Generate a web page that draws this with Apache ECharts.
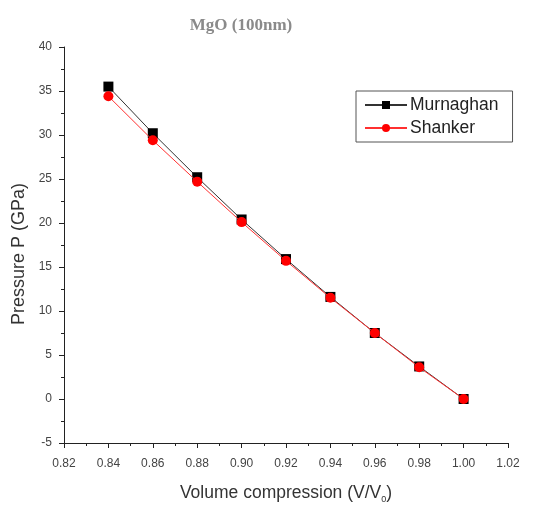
<!DOCTYPE html>
<html><head><meta charset="utf-8">
<script src="https://cdn.jsdelivr.net/npm/echarts@6/dist/echarts.min.js"></script>
<style>html,body{margin:0;padding:0;background:#fff}#c{width:555px;height:509px}</style>
</head><body><div id="c"></div>
<script>
var xValues = [0.84, 0.86, 0.88, 0.90, 0.92, 0.94, 0.96, 0.98, 1.00];
var murnaghan = [35.5, 30.2, 25.2, 20.4, 15.9, 11.6, 7.5, 3.7, 0.0];
var shanker = [34.4, 29.4, 24.7, 20.1, 15.7, 11.5, 7.5, 3.6, 0.0];
var seriesNames = ['Murnaghan', 'Shanker'];

function pairs(ys){ return xValues.map(function(x,i){ return [x, ys[i]]; }); }

var chart = echarts.init(document.getElementById('c'));
chart.setOption({
  animation: false,
  title: {
    text: 'MgO (100nm)', left: 236, top: 12, textAlign: 'center',
    textStyle: { fontFamily: 'Liberation Serif', fontWeight: 'bold', fontSize: 17, color: '#8a8a8a' }
  },
  legend: {
    data: seriesNames, orient: 'vertical', left: 356, top: 91,
    padding: [5, 14, 5, 8], itemGap: 5,
    borderColor: '#555', borderWidth: 1, itemWidth: 42, itemHeight: 10,
    textStyle: { fontFamily: 'Liberation Sans', fontSize: 17.5, color: '#222', padding: [0, 0, 0, -2] }
  },
  grid: { left: 64, right: 47, top: 47, bottom: 58 },
  xAxis: {
    type: 'value', min: 0.82, max: 1.02, interval: 0.02,
    name: '{a|Volume compression (V/V}{s|0}{a|)}', nameLocation: 'middle', nameGap: 40,
    nameTextStyle: { rich: {
      a: { fontFamily: 'Liberation Sans', fontSize: 17.5, color: '#333' },
      s: { fontFamily: 'Liberation Sans', fontSize: 9, color: '#333', verticalAlign: 'bottom', padding: [12,0,0,0] }
    } },
    axisLine: { show: true, onZero: false, lineStyle: { color: '#222', width: 1 } },
    axisTick: { show: true, inside: false, length: 5, lineStyle: { color: '#222' } },
    minorTick: { show: true, splitNumber: 2, length: 3, lineStyle: { color: '#222' } },
    splitLine: { show: false },
    axisLabel: { fontFamily: 'Liberation Sans', fontSize: 12, color: '#444', margin: 15,
      formatter: function(v){ return v.toFixed(2); } }
  },
  yAxis: {
    type: 'value', min: -5, max: 40, interval: 5,
    name: 'Pressure P (GPa)', nameLocation: 'middle', nameGap: 36,
    nameTextStyle: { fontFamily: 'Liberation Sans', fontSize: 18, color: '#333', padding: [0, 18, 0, 0] },
    axisLine: { show: true, onZero: false, lineStyle: { color: '#222', width: 1 } },
    axisTick: { show: true, inside: false, length: 5, lineStyle: { color: '#222' } },
    minorTick: { show: true, splitNumber: 2, length: 3, lineStyle: { color: '#222' } },
    splitLine: { show: false },
    axisLabel: { fontFamily: 'Liberation Sans', fontSize: 12, color: '#444', margin: 12 }
  },
  series: [
    { name: seriesNames[0], type: 'line', data: pairs(murnaghan), symbol: 'rect', symbolSize: 10,
      itemStyle: { color: '#000' }, lineStyle: { color: '#333', width: 1 }, z: 2 },
    { name: seriesNames[1], type: 'line', data: pairs(shanker), symbol: 'circle', symbolSize: 10,
      itemStyle: { color: '#ff0000' }, lineStyle: { color: '#ff3030', width: 1 }, z: 3 }
  ]
});
</script></body></html>
